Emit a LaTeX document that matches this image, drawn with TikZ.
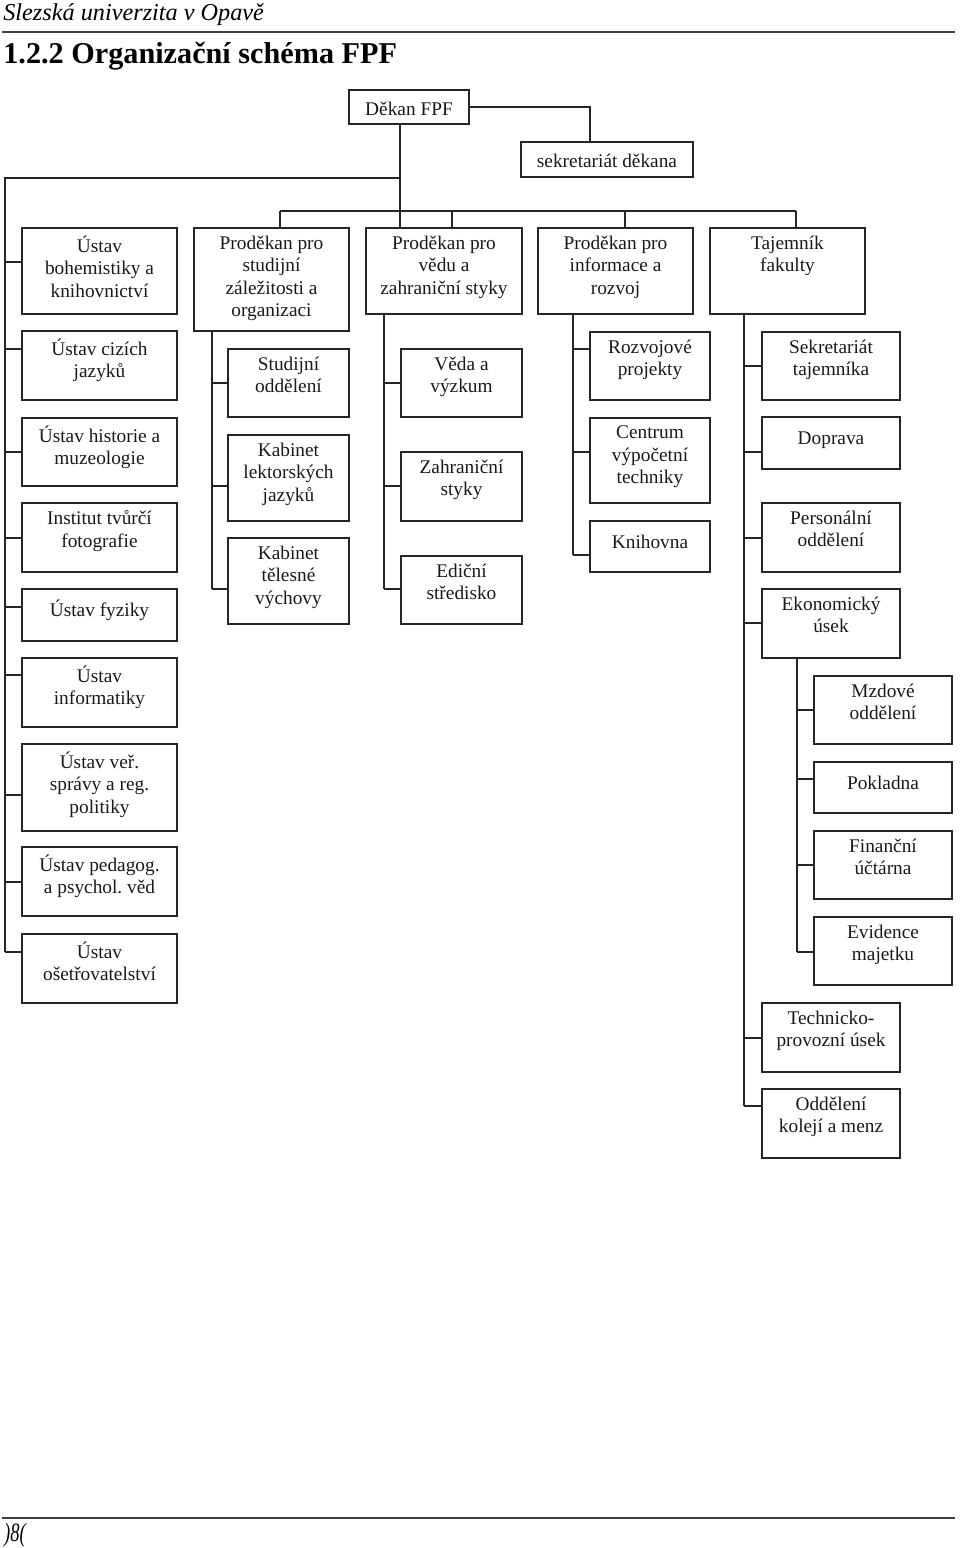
\documentclass[tikz,border=0pt]{standalone}
\usepackage{fontspec}
\setmainfont{Liberation Serif}
\frenchspacing
\begin{document}
\begin{tikzpicture}[
  x=0.2mm, y=-0.2mm,
  unit/.style={draw=black!85, line width=0.9pt, inner sep=0pt},
  lbl/.style={anchor=north, yshift=-4.8pt, inner sep=0pt, align=center,
    font=\fontsize{11}{12.7}\selectfont, text=black!90,
    execute at begin node={\rule{0pt}{11pt}}},
  link/.style={draw=black!85, line width=0.9pt}
]
\useasboundingbox (0,0) rectangle (960,1548);

% page head and foot
\node[anchor=west, inner sep=0pt, font=\fontsize{13.8}{15}\selectfont\itshape] (head) at (3,15) {Slezská univerzita v Opavě};
\draw[line width=1.1pt, black!75] (2,32) -- (955,32);
\node[anchor=west, inner sep=0pt, font=\fontsize{17.2}{19}\selectfont\bfseries] (title) at (3,56) {1.2.2 Organizační schéma FPF};
\draw[line width=1.1pt, black!75] (2,1518) -- (955,1518);
\node[anchor=west, inner sep=0pt, xscale=0.7, font=\fontsize{15}{16}\selectfont\itshape] (page) at (4,1535) {)8(};

% dean and his secretariat
\node[unit, minimum width=120*0.2mm, minimum height=34*0.2mm, label={[lbl, yshift=1.2pt]north:{Děkan FPF}}] (dekan) at (409,107) {};
\node[unit, minimum width=172*0.2mm, minimum height=35*0.2mm, label={[lbl, yshift=1.2pt]north:{sekretariát děkana}}] (sekr) at (607,159.5) {};
\draw[link] (dekan.east) -| ([xshift=-3.4mm]sekr.north);

% vice-deans and secretary
\node[unit, minimum width=155*0.2mm, minimum height=103*0.2mm, label={[lbl]north:{Proděkan pro\\studijní\\záležitosti a\\organizaci}}] (stud) at (271.5,279.5) {};
\node[unit, minimum width=156*0.2mm, minimum height=86*0.2mm, label={[lbl]north:{Proděkan pro\\vědu a\\zahraniční styky}}] (vedu) at (444,271) {};
\node[unit, minimum width=155*0.2mm, minimum height=86*0.2mm, label={[lbl]north:{Proděkan pro\\informace a\\rozvoj}}] (info) at (615.5,271) {};
\node[unit, minimum width=155*0.2mm, minimum height=86*0.2mm, label={[lbl]north:{Tajemník\\fakulty}}] (taj) at (787.5,271) {};

\coordinate (trunk) at (400,211);
\coordinate (busL) at (280,211);
\coordinate (busR) at (796,211);
\draw[link] (dekan.south -| trunk) -- (trunk |- vedu.north);
\draw[link] (busL) -- (busR);
\draw[link] (busL) -- (busL |- stud.north);
\draw[link] (busR) -- (busR |- taj.north);
\draw[link] ([xshift=1.6mm]vedu.north) -- ++(0,-17);
\draw[link] ([xshift=1.9mm]info.north) -- ++(0,-17);

% institutes
\foreach \n/\t/\b/\ty/\txt in {
  bohem/228/314/262/{Ústav\\bohemistiky a\\knihovnictví},
  cizi/331/400/349/{Ústav cizích\\jazyků},
  hist/418/486/452/{Ústav historie a\\muzeologie},
  foto/503/572/538/{Institut tvůrčí\\fotografie},
  fyz/589/641/607/{Ústav fyziky},
  inf/658/727/675/{Ústav\\informatiky},
  spr/744/831/795/{Ústav veř.\\správy a reg.\\politiky},
  ped/847/916/882/{Ústav pedagog.\\a psychol. věd},
  ose/934/1003/952/{Ústav\\ošetřovatelství}} {
  \node[unit, minimum width=155*0.2mm, minimum height={(\b-\t)*0.2mm}, label={[lbl]north:{\txt}}] (\n) at (99.5,{(\t+\b)/2}) {};
  \coordinate (\n-t) at (5,\ty);
  \draw[link] (\n-t) -- (\n.west |- \n-t);
}
\draw[link] (trunk |- sekr.south) -- (ose-t |- sekr.south) -- (ose-t);

% study
\foreach \n/\t/\b/\ty/\txt in {
  studodd/349/417/383/{Studijní\\oddělení},
  lekt/435/521/486/{Kabinet\\lektorských\\jazyků},
  tel/538/624/589/{Kabinet\\tělesné\\výchovy}} {
  \node[unit, minimum width=121*0.2mm, minimum height={(\b-\t)*0.2mm}, label={[lbl]north:{\txt}}] (\n) at (288.5,{(\t+\b)/2}) {};
  \coordinate (\n-t) at (212,\ty);
  \draw[link] (\n-t) -- (\n.west |- \n-t);
}
\draw[link] (stud.south -| tel-t) -- (tel-t);

% science
\foreach \n/\t/\b/\ty/\txt in {
  veda/349/417/383/{Věda a\\výzkum},
  zahr/452/521/486/{Zahraniční\\styky},
  edic/556/624/589/{Ediční\\středisko}} {
  \node[unit, minimum width=121*0.2mm, minimum height={(\b-\t)*0.2mm}, label={[lbl]north:{\txt}}] (\n) at (461.5,{(\t+\b)/2}) {};
  \coordinate (\n-t) at (384,\ty);
  \draw[link] (\n-t) -- (\n.west |- \n-t);
}
\draw[link] (vedu.south -| edic-t) -- (edic-t);

% information
\foreach \n/\t/\b/\ty/\txt in {
  rozv/332/400/349/{Rozvojové\\projekty},
  cvt/418/503/452/{Centrum\\výpočetní\\techniky},
  knih/521/572/555/{Knihovna}} {
  \node[unit, minimum width=120*0.2mm, minimum height={(\b-\t)*0.2mm}, label={[lbl]north:{\txt}}] (\n) at (650,{(\t+\b)/2}) {};
  \coordinate (\n-t) at (573,\ty);
  \draw[link] (\n-t) -- (\n.west |- \n-t);
}
\draw[link] (info.south -| knih-t) -- (knih-t);

% secretary
\foreach \n/\t/\b/\ty/\txt in {
  sektaj/332/400/366/{Sekretariát\\tajemníka},
  dopr/417/469/452/{Doprava},
  pers/503/572/538/{Personální\\oddělení},
  ekon/589/658/623/{Ekonomický\\úsek},
  tech/1003/1072/1038/{Technicko-\\provozní úsek},
  kol/1089/1158/1106/{Oddělení\\kolejí a menz}} {
  \node[unit, minimum width=138*0.2mm, minimum height={(\b-\t)*0.2mm}, label={[lbl]north:{\txt}}] (\n) at (831,{(\t+\b)/2}) {};
  \coordinate (\n-t) at (744,\ty);
  \draw[link] (\n-t) -- (\n.west |- \n-t);
}
\draw[link] (taj.south -| kol-t) -- (kol-t);

% economy
\foreach \n/\t/\b/\ty/\txt in {
  mzd/676/744/710/{Mzdové\\oddělení},
  pokl/762/813/779/{Pokladna},
  fin/831/899/865/{Finanční\\účtárna},
  evid/917/985/952/{Evidence\\majetku}} {
  \node[unit, minimum width=138*0.2mm, minimum height={(\b-\t)*0.2mm}, label={[lbl]north:{\txt}}] (\n) at (883,{(\t+\b)/2}) {};
  \coordinate (\n-t) at (797,\ty);
  \draw[link] (\n-t) -- (\n.west |- \n-t);
}
\draw[link] (ekon.south -| evid-t) -- (evid-t);
\end{tikzpicture}
\end{document}
